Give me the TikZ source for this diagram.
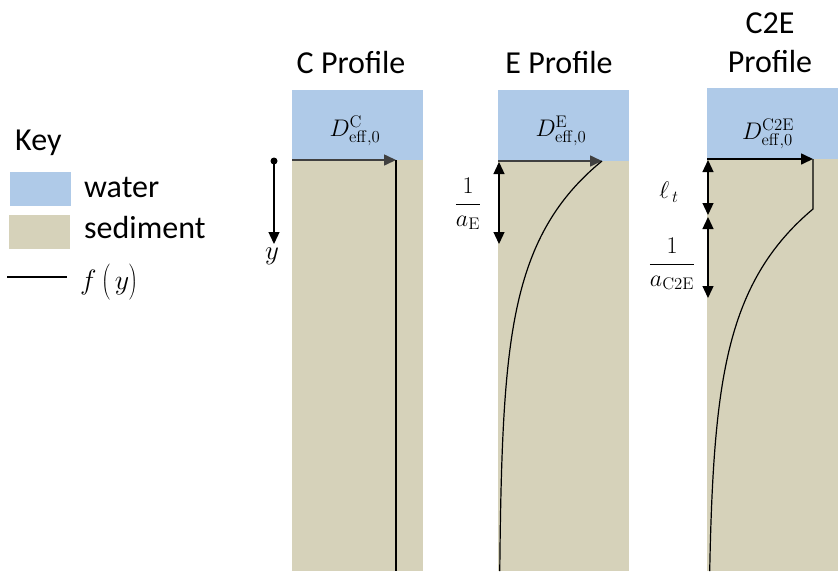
\RequirePackage{fix-cm}
\documentclass[tikz,border=0pt]{standalone}
\usepackage[no-math]{fontspec}
\setmainfont{Carlito}
\usetikzlibrary{arrows.meta}
\definecolor{water}{RGB}{175,202,232}
\definecolor{sediment}{RGB}{214,210,186}
\begin{document}
\begin{tikzpicture}[x=1pt,y=-1pt,
  tip/.style={-{Triangle[length=12pt,width=11pt]}},
  dim/.style={{Triangle[length=12pt,width=11pt]}-{Triangle[length=12pt,width=11pt]}, line width=1.3pt},
  surf/.style={tip, line width=1.6pt, black!75},
  ttl/.style={font=\fontsize{32}{37}\selectfont, anchor=base, inner sep=0pt},
  keytxt/.style={font=\fontsize{32}{37}\selectfont, anchor=base west, inner sep=0pt},
  lbl/.style={font=\fontsize{24}{28}\selectfont, inner sep=0pt},
  prof/.style={line width=1.2pt}]
\useasboundingbox (0,0) rectangle (838,571);

% ---------- legend ----------
\node[keytxt] (key) at (15,150) {Key};
\fill[water] (10,172) rectangle (71,206);
\fill[sediment] (9,215) rectangle (70,249);
\coordinate (kl1) at (7,277);
\coordinate (kl2) at (67,277);
\draw[line width=1.5pt] (kl1) -- (kl2);
\node[keytxt] (kwater) at (84,197) {water};
\node[keytxt] (ksed) at (84,238) {sediment};
\node[keytxt, font=\fontsize{28}{32}\selectfont] (kf) at (80,289) {$f\left(\vrule height 22pt depth 10pt width 0pt\,y\right)$};

% ---------- C profile ----------
\fill[water] (292,90) rectangle (423,160);
\fill[sediment] (292,160) rectangle (423,571);
\node[ttl] (ct) at (351,73) {C Profile};
\node[lbl] (cd) at (355,131) {$D^{\mathrm{C}}_{\mathrm{eff,0}}$};
\coordinate (c0) at (292,160);
\coordinate (c1) at (396,160);
\coordinate (c2) at (396,571);
\draw[surf] (c0) -- (c1);
\draw[line width=2pt] (c1) -- (c2);
\coordinate (ydot) at (274,161);
\coordinate (yend) at (274,244);
\fill (ydot) circle (3.5);
\draw[tip, line width=1.3pt] (ydot) -- (yend);
\node[lbl, font=\fontsize{27}{30}\selectfont] (ylab) at (272,256) {$y$};

% ---------- E profile ----------
\fill[water] (498,90) rectangle (629,161);
\fill[sediment] (498,161) rectangle (629,571);
\node[ttl] (et) at (559,73) {E Profile};
\node[lbl] (ed) at (561,131) {$D^{\mathrm{E}}_{\mathrm{eff,0}}$};
\coordinate (e0) at (498,161);
\coordinate (e1) at (602,161);
\draw[surf] (e0) -- (e1);
\draw[prof] plot[domain=161:571, samples=90, smooth] ({499+103*exp(-(\x-161)/84)}, \x);
\coordinate (ea) at (499,162);
\coordinate (eb) at (499,244);
\draw[dim] (ea) -- (eb);
\node[lbl] (efrac) at (468,204) {$\displaystyle\frac{1}{a_{\mathrm{E}}}$};

% ---------- C2E profile ----------
\fill[water] (707,88) rectangle (838,159);
\fill[sediment] (707,159) rectangle (838,571);
\node[ttl] (c2t1) at (770,33) {C2E};
\node[ttl] (c2t2) at (770,72) {Profile};
\node[lbl] (c2d) at (768,134) {$D^{\mathrm{C2E}}_{\mathrm{eff,0}}$};
\coordinate (f0) at (707,159);
\coordinate (f1) at (813,159);
\coordinate (f2) at (813,209);
\draw[surf, black] (f0) -- (f1);
\draw[prof] (f1) -- (f2) -- plot[domain=209:571, samples=90, smooth] ({708+105*exp(-(\x-209)/88)}, \x);
\coordinate (la) at (708,160);
\coordinate (lb) at (708,215);
\coordinate (lc) at (708,217);
\coordinate (ld) at (708,298);
\draw[dim] (la) -- (lb);
\draw[dim] (lc) -- (ld);
\node[lbl] (ell) at (669,192) {$\ell_{\,t}$};
\node[lbl] (ffrac) at (672,264) {$\displaystyle\frac{1}{a_{\mathrm{C2E}}}$};
\end{tikzpicture}
\end{document}
